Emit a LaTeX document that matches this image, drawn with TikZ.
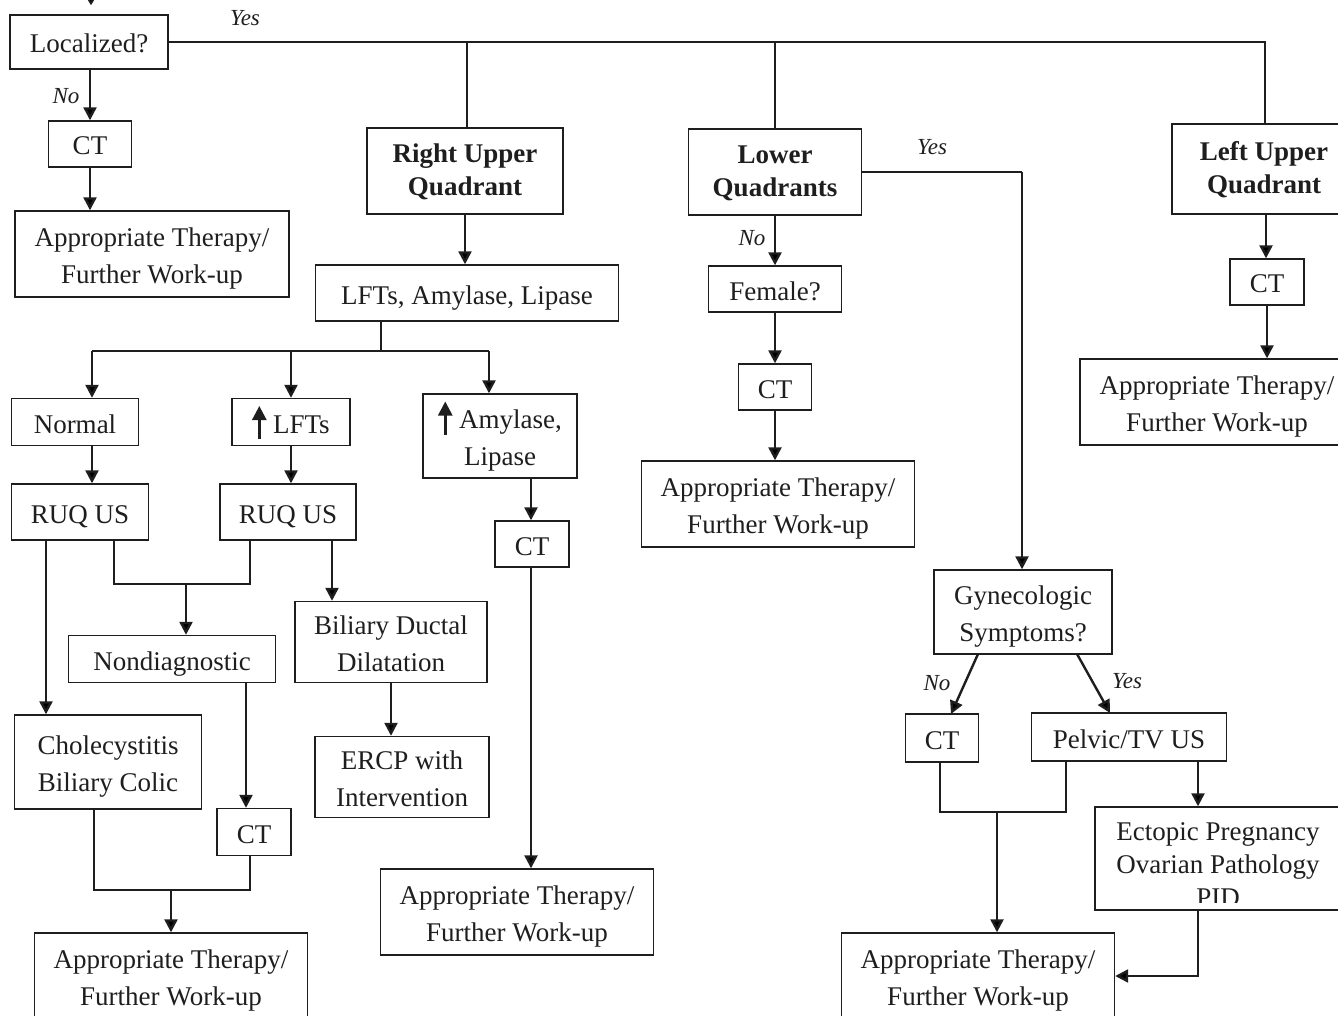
\documentclass[tikz,border=0pt]{standalone}
\usepackage{fontspec}
\setmainfont{Liberation Serif}
\usetikzlibrary{arrows.meta,calc}
\definecolor{ink}{RGB}{30,30,30}
\newcommand{\upar}{\tikz[baseline=0pt]\draw[ink,line width=2.6pt,-{Triangle[length=14pt,width=14pt]}](0pt,-6pt)--(0pt,27pt);}
\newcommand{\tstrut}{\rule{0pt}{30pt}}
\newcommand{\bstrut}{\rule{0pt}{25pt}}
\begin{document}
\begin{tikzpicture}[x=1pt,y=-1pt,
 box/.style={draw=ink,line width=1.4pt,inner sep=0pt,align=center,font=\fontsize{27}{37}\selectfont,text=ink,
   execute at begin node={\rule{0pt}{30pt}},execute at end node={\rule[-8pt]{0pt}{8pt}}},
 bbox/.style={box,font=\fontsize{27}{33}\selectfont\bfseries},
 arr/.style={draw=ink,line width=2.4pt,-{Triangle[length=13pt,width=13pt]}},
 ln/.style={draw=ink,line width=1.4pt},
 lab/.style={font=\fontsize{23}{26}\selectfont\itshape,text=ink,inner sep=0pt}]
\useasboundingbox (0,0) rectangle (1338,1016);

% ---------- nodes ----------
\node[box,minimum width=158,minimum height=54] (loc) at (89,42) {Localized?};
\node[box,minimum width=83,minimum height=46] (ct1) at (90,144) {CT};
\node[box,minimum width=274,minimum height=86] (app1) at (152,254) {\tstrut Appropriate Therapy/\\Further Work-up};

\node[bbox,minimum width=196,minimum height=86] (rq) at (465,171) {\bstrut Right Upper\\Quadrant};
\node[box,minimum width=303,minimum height=56] (lfa) at (467,293) {LFTs, Amylase, Lipase};
\node[box,minimum width=127,minimum height=47] (normal) at (75,422) {Normal};
\node[box,minimum width=118,minimum height=47] (lft) at (291,422) {\upar\ LFTs};
\node[box,minimum width=154,minimum height=84] (amy) at (500,436) {\tstrut\upar\ Amylase,\\Lipase};
\node[box,minimum width=137,minimum height=56] (us1) at (80,512) {RUQ US};
\node[box,minimum width=136,minimum height=56] (us2) at (288,512) {RUQ US};
\node[box,minimum width=207,minimum height=47] (nond) at (172,659) {Nondiagnostic};
\node[box,minimum width=187,minimum height=94] (chole) at (108,762) {\tstrut Cholecystitis\\Biliary Colic};
\node[box,minimum width=74,minimum height=47] (ct2) at (254,832) {CT};
\node[box,minimum width=273,minimum height=86] (app2) at (171,976) {\tstrut Appropriate Therapy/\\Further Work-up};
\node[box,minimum width=192,minimum height=81] (bdd) at (391,642) {\tstrut Biliary Ductal\\Dilatation};
\node[box,minimum width=174,minimum height=81] (ercp) at (402,777) {\tstrut ERCP with\\Intervention};
\node[box,minimum width=74,minimum height=46] (ct3) at (532,544) {CT};
\node[box,minimum width=273,minimum height=86] (app3) at (517,912) {\tstrut Appropriate Therapy/\\Further Work-up};

\node[bbox,minimum width=173,minimum height=86] (lq) at (775,172) {\bstrut Lower\\Quadrants};
\node[box,minimum width=133,minimum height=46] (fem) at (775,289) {Female?};
\node[box,minimum width=73,minimum height=46] (ct4) at (775,387) {CT};
\node[box,minimum width=273,minimum height=86] (app4) at (778,504) {\tstrut Appropriate Therapy/\\Further Work-up};

\node[bbox,minimum width=184,minimum height=90] (luq) at (1264,169) {\bstrut Left Upper\\Quadrant};
\node[box,minimum width=74,minimum height=46] (ct5) at (1267,282) {CT};
\node[box,minimum width=274,minimum height=86] (app5) at (1217,402) {\tstrut Appropriate Therapy/\\Further Work-up};

\node[box,minimum width=178,minimum height=84] (gyn) at (1023,612) {\tstrut Gynecologic\\Symptoms?};
\node[box,minimum width=73,minimum height=48] (ct6) at (942,738) {CT};
\node[box,minimum width=195,minimum height=48] (pel) at (1129,737) {Pelvic/TV US};
\node[draw=ink,line width=1.4pt,inner sep=0pt,minimum width=250,minimum height=103] (ecto) at (1220,858.5) {};
\begin{scope}
\clip (ecto.north west) rectangle ([yshift=8pt]ecto.south east);
\node[align=center,inner sep=0pt,text=ink,font=\fontsize{27}{33}\selectfont,anchor=north] (ectotxt) at (1218,810) {\rule{0pt}{30pt}Ectopic Pregnancy\\Ovarian Pathology\\PID};
\end{scope}
\node[box,minimum width=273,minimum height=86] (app6) at (978,976) {\tstrut Appropriate Therapy/\\Further Work-up};

% ---------- labels ----------
\node[lab] (yes1) at (245,18) {Yes};
\node[lab] (no1) at (66,96) {No};
\node[lab] (yes2) at (932,147) {Yes};
\node[lab] (no2) at (752,238) {No};
\node[lab] (no3) at (937,683) {No};
\node[lab] (yes3) at (1127,681) {Yes};

% ---------- coordinates ----------
\coordinate (in0) at (91,-20);
\coordinate (xrq) at (467,0);
\coordinate (xluq) at (1265,0);
\coordinate (xluqa) at (1266,0);
\coordinate (sp) at (381,351);
\coordinate (b1) at (92,351);
\coordinate (b2) at (291,351);
\coordinate (b3) at (489,351);
\coordinate (xch) at (46,0);
\coordinate (j1) at (114,584);
\coordinate (j2) at (250,584);
\coordinate (j3) at (186,584);
\coordinate (xbd) at (332,0);
\coordinate (xnd) at (246,0);
\coordinate (k1) at (94,890);
\coordinate (k2) at (250,890);
\coordinate (k3) at (171,890);
\coordinate (xam) at (531,0);
\coordinate (xlq) at (1022,0);
\coordinate (g1) at (978,654);
\coordinate (g2) at (951,714);
\coordinate (g3) at (1077,654);
\coordinate (g4) at (1110,713);
\coordinate (m1) at (940,812);
\coordinate (m2) at (1066,812);
\coordinate (m3) at (997,812);
\coordinate (xec) at (1198,0);

% ---------- connectors ----------
\draw[draw=ink,line width=2pt,-{Triangle[length=7pt,width=8pt]},shorten >=9pt] (in0) -- (in0 |- loc.north);
\draw[ln] (loc.east) -- (loc.east -| xluq) -- (xluq |- luq.north);
\draw[ln] (xrq |- rq.north) -- (xrq |- loc.east);
\draw[ln] (lq.north) -- (lq.north |- loc.east);

\draw[arr] (loc.south -| ct1) -- (ct1.north);
\draw[arr] (ct1.south) -- (ct1.south |- app1.north);

\draw[arr] (rq.south) -- (rq.south |- lfa.north);
\draw[ln] (sp |- lfa.south) -- (sp);
\draw[ln] (b1) -- (b3);
\draw[arr] (b1) -- (b1 |- normal.north);
\draw[arr] (b2) -- (b2 |- lft.north);
\draw[arr] (b3) -- (b3 |- amy.north);
\draw[arr] (b1 |- normal.south) -- (b1 |- us1.north);
\draw[arr] (lft.south) -- (lft.south |- us2.north);
\draw[arr] (xch |- us1.south) -- (xch |- chole.north);
\draw[ln] (j1 |- us1.south) -- (j1) -- (j2) -- (j2 |- us2.south);
\draw[arr] (j3) -- (j3 |- nond.north);
\draw[arr] (xbd |- us2.south) -- (xbd |- bdd.north);
\draw[arr] (xnd |- nond.south) -- (xnd |- ct2.north);
\draw[arr] (bdd.south) -- (bdd.south |- ercp.north);
\draw[ln] (k1 |- chole.south) -- (k1) -- (k2) -- (k2 |- ct2.south);
\draw[arr] (k3) -- (k3 |- app2.north);
\draw[arr] (xam |- amy.south) -- (xam |- ct3.north);
\draw[arr] (xam |- ct3.south) -- (xam |- app3.north);

\draw[ln] (lq.east) -- (lq.east -| xlq);
\draw[arr] (lq.east -| xlq) -- (xlq |- gyn.north);
\draw[arr] (lq.south) -- (lq.south |- fem.north);
\draw[arr] (fem.south) -- (ct4.north);
\draw[arr] (ct4.south) -- (ct4.south |- app4.north);

\draw[arr] (xluqa |- luq.south) -- (xluqa |- ct5.north);
\draw[arr] (ct5.south) -- (ct5.south |- app5.north);

\draw[arr] (g1) -- (g2);
\draw[arr] (g3) -- (g4);
\draw[ln] (m1 |- ct6.south) -- (m1) -- (m2) -- (m2 |- pel.south);
\draw[arr] (m3) -- (m3 |- app6.north);
\draw[arr] (xec |- pel.south) -- (xec |- ecto.north);
\draw[arr] (xec |- ecto.south) |- (app6.east);
\end{tikzpicture}
\end{document}
